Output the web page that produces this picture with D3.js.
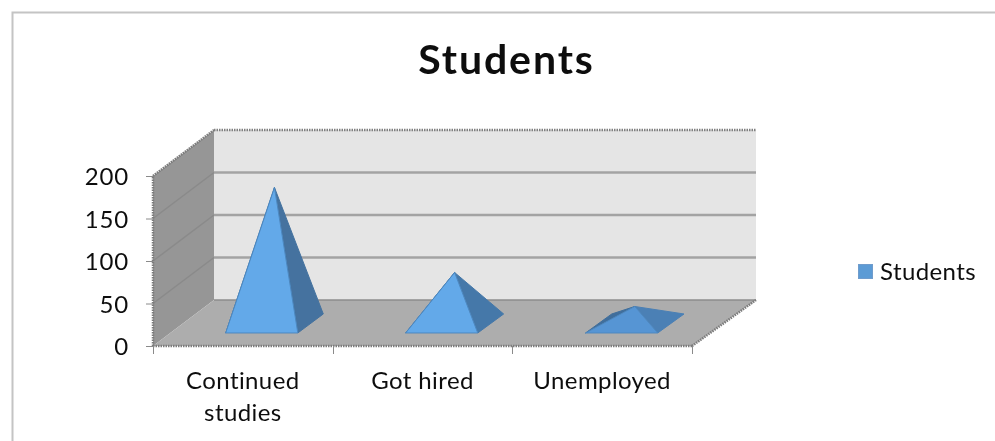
<!DOCTYPE html>
<html><head><meta charset="utf-8">
<script src="https://cdn.jsdelivr.net/npm/d3@7/dist/d3.min.js"></script>
<style>html,body{margin:0;padding:0;background:#fff}svg{display:block}text{font-family:Lato,sans-serif;fill:#111}</style>
</head><body><div id="c"></div>
<script>
const chartTitle = "Students";
const seriesName = "Students";
const categories = ["Continued studies", "Got hired", "Unemployed"];
const categoryLines = [["Continued", "studies"], ["Got hired"], ["Unemployed"]];
const values = [160, 60, 20];
const yTicks = [0, 50, 100, 150, 200];

const W = 995, H = 441;
const svg = d3.select("#c").append("svg").attr("width", W).attr("height", H);
const defs = svg.append("defs");
defs.append("filter").attr("id","soft").append("feGaussianBlur").attr("stdDeviation",0.55);
defs.append("filter").attr("id","txt").append("feGaussianBlur").attr("stdDeviation",0.3);

// frame
svg.append("path").attr("d","M12.5,441V12.5H995").attr("fill","none").attr("stroke","#c4c4c4").attr("stroke-width",2);

// scales
const x = d3.scaleBand().domain(categories).range([153, 692]);
const y = d3.scaleLinear().domain([0, 200]).range([346, 176]);
const x0 = x.range()[0], x1 = x.range()[1];
const depthRun = d3.scaleLinear().domain([x0, x1]).range([61, 64]);
const depthY = d3.scaleLinear().domain([0, 1]).range([0, -46]);
const P = (px, v, d) => [px + d * depthRun(px), y(v) + depthY(d)];
const line = d3.line();
const poly = pts => line(pts) + "Z";

const g = svg.append("g").attr("filter","url(#soft)");
// walls
g.append("path").attr("d", poly([P(x0,0,1),P(x1,0,1),P(x1,200,1),P(x0,200,1)])).attr("fill","#e5e5e5");
g.append("path").attr("d", poly([P(x0,0,0),P(x0,0,1),P(x0,200,1),P(x0,200,0)])).attr("fill","#969696");
g.append("path").attr("d", poly([P(x0,0,0),P(x1,0,0),P(x1,0,1),P(x0,0,1)])).attr("fill","#adadad");
// gridlines
yTicks.forEach(t => {
  if (t === 0) {
    g.append("path").attr("d", line([P(x0,0,1),P(x1,0,1)])).attr("stroke","#8c8c8c").attr("stroke-width",1.5).attr("fill","none");
    return;
  }
  if (t < 200) {
    g.append("path").attr("d", line([P(x0,t,0),P(x0,t,1)])).attr("stroke","#8a8a8a").attr("stroke-width",1.5).attr("fill","none");
  }
  const top = t === 200;
  g.append("path").attr("d", line([P(x0,t,1),P(x1,t,1)]))
    .attr("stroke", top ? "#808080" : "#a3a3a3").attr("stroke-width", 2.5)
    .attr("stroke-dasharray", top ? "1.5 1" : null).attr("fill","none");
});
// dotted edges
const dotted = (a,b) => g.append("path").attr("d", line([a,b])).attr("fill","none")
  .attr("stroke","#7c7c7c").attr("stroke-width",2.5).attr("stroke-dasharray","1.5 1");
dotted(P(x0,0,0),P(x0,200,0));
dotted(P(x0,0,0),P(x1,0,0));
dotted(P(x0,200,0),P(x0,200,1));
dotted(P(x1,0,0),P(x1,0,1));

// pyramids
const dFront = 0.283, dBack = 0.696, baseW = 72, inset = 1.5;
const light = ["#63a9e9","#63a9e9","#5795d4"];
const right = ["#44729f","#4578a9","#4b80b5"];
const back = "#3f6e9c";
categories.forEach((c,i) => {
  const v = values[i];
  const cx = x(c) + x.bandwidth()/2 + inset;
  const L = cx - baseW/2, R = cx + baseW/2;
  const apex = P(cx, v, (dFront+dBack)/2);
  const fl = P(L,0,dFront), fr = P(R,0,dFront), br = P(R,0,dBack), bl = P(L,0,dBack);
  const gp = g.append("g").attr("stroke-linejoin","round");
  gp.append("path").attr("d",poly([fl,bl,apex])).attr("fill",back).attr("stroke",back).attr("stroke-width",1);
  gp.append("path").attr("d",poly([fr,br,apex])).attr("fill",right[i]).attr("stroke",right[i]).attr("stroke-width",1);
  gp.append("path").attr("d",poly([fl,fr,apex])).attr("fill",light[i]).attr("stroke","#4d88c0").attr("stroke-width",1);
});

// ticks
const ax = svg.append("g").attr("stroke","#8a8a8a").attr("stroke-width",1);
yTicks.forEach(t => ax.append("line").attr("x1",x0-7).attr("x2",x0).attr("y1",y(t)+.5).attr("y2",y(t)+.5));
[...categories.map(c=>x(c)), x1].forEach(px => ax.append("line").attr("x1",Math.round(px)+.5).attr("x2",Math.round(px)+.5).attr("y1",346).attr("y2",354));

const t = svg.append("g").attr("filter","url(#txt)");
t.selectAll(".yl").data(yTicks).join("text").attr("class","yl")
  .attr("x",129).attr("y",d=>y(d)+9).attr("text-anchor","end").attr("font-size",24).attr("letter-spacing",0.8).text(d=>d);
categories.forEach((c,i) => {
  const cx = x(c) + x.bandwidth()/2;
  categoryLines[i].forEach((s,k) => {
    t.append("text").attr("x",cx).attr("y",389+k*32).attr("text-anchor","middle").attr("font-size",24).attr("letter-spacing",0.4).text(s);
  });
});
t.append("text").attr("x",506.5).attr("y",74).attr("text-anchor","middle")
  .attr("font-size",41).attr("font-weight",700).attr("letter-spacing",1.9).text(chartTitle);
// legend
svg.append("rect").attr("x",858.5).attr("y",264.5).attr("width",14).attr("height",14)
  .attr("fill","#5b9bd5").attr("stroke","#6f9ccc").attr("stroke-width",1).attr("filter","url(#txt)");
t.append("text").attr("x",880).attr("y",280).attr("font-size",24).attr("letter-spacing",0.4).text(seriesName);
</script></body></html>
